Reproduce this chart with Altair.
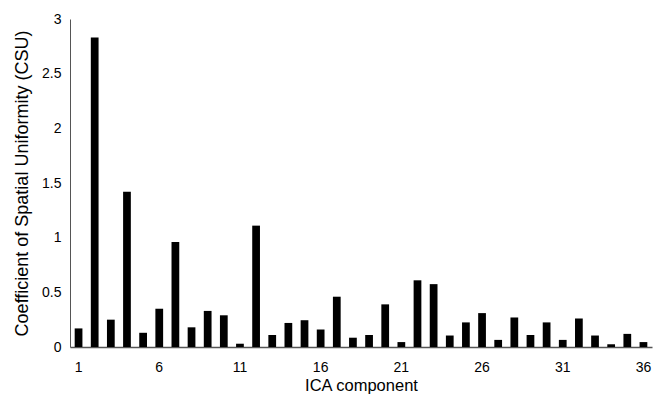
import altair as alt
import pandas as pd

components = list(range(1, 37))
csu = [0.17, 2.83, 0.25, 1.42, 0.13, 0.35, 0.96, 0.18, 0.33, 0.29,
       0.03, 1.11, 0.11, 0.22, 0.245, 0.16, 0.46, 0.085, 0.11, 0.39,
       0.045, 0.61, 0.575, 0.105, 0.225, 0.31, 0.065, 0.27, 0.11, 0.225,
       0.065, 0.26, 0.105, 0.025, 0.12, 0.045]
x_ticks = [1, 6, 11, 16, 21, 26, 31, 36]
y_ticks = [0, 0.5, 1, 1.5, 2, 2.5, 3]

df = pd.DataFrame({"component": components, "csu": csu})

font = "Liberation Sans"

chart = alt.Chart(df).mark_bar(color="black").encode(
    x=alt.X("component:O",
            scale=alt.Scale(paddingInner=0.52, paddingOuter=0.29),
            axis=alt.Axis(title="ICA component", values=x_ticks, labelAngle=0,
                          ticks=False, labelPadding=13, titlePadding=3,
                          domainColor="#555555", domainWidth=1.5,
                          labelFontSize=14, titleFontSize=16.5,
                          labelColor="black", titleColor="black",
                          labelFont=font, titleFont=font, titleFontWeight="normal")),
    y=alt.Y("csu:Q",
            scale=alt.Scale(domain=[0, 3], nice=False),
            axis=alt.Axis(title="Coefficient of Spatial Uniformity (CSU)",
                          values=y_ticks, format="~g", grid=False,
                          ticks=False, labelPadding=9, titlePadding=10,
                          domainColor="#555555", domainWidth=1,
                          labelFontSize=14, titleFontSize=18,
                          labelColor="black", titleColor="black",
                          labelFont=font, titleFont=font, titleFontWeight="normal")),
).properties(
    width=582, height=328,
    autosize=alt.AutoSizeParams(type="none"),
    padding={"left": 70, "top": 19, "right": 11, "bottom": 50},
).configure_view(stroke=None)

chart.save("out.html", embed_options={"renderer": "svg", "actions": False})
